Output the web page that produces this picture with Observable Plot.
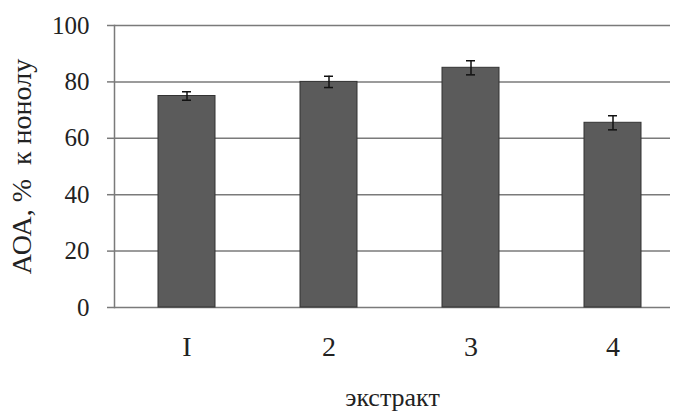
<!DOCTYPE html>
<html>
<head>
<meta charset="utf-8">
<script src="https://cdn.jsdelivr.net/npm/d3@7"></script>
<script src="https://cdn.jsdelivr.net/npm/@observablehq/plot@0.6"></script>
<style>
  html, body { margin: 0; padding: 0; background: #fff; }
  svg { display: block; }
  svg text { font-family: "Liberation Serif", "DejaVu Serif", serif !important; }
</style>
</head>
<body>
<div id="chart"></div>
<script>
const extracts = ["I", "2", "3", "4"];
const values = [75, 80, 85, 65.5];
const errors = [1.5, 2, 2.5, 2.5];
const yTicks = [0, 20, 40, 60, 80, 100];
const xTitle = "экстракт";
const yTitle = "АОА, %  к нонолу";

const data = extracts.map((e, i) => ({ e, v: values[i], lo: values[i] - errors[i], hi: values[i] + errors[i] }));

const font = "Liberation Serif, DejaVu Serif, serif";
const chart = Plot.plot({
  width: 677,
  height: 411,
  marginLeft: 114,
  marginRight: 7,
  marginTop: 25,
  marginBottom: 104,
  style: { fontFamily: font, color: "#222", background: "#fff" },
  x: { domain: extracts, range: [114, 684], paddingInner: 0.6, paddingOuter: 0.3 },
  y: { domain: [0, 100] },
  marks: [
    Plot.ruleY(yTicks, { stroke: "#7a7a7a", strokeWidth: 1.5 }),
    Plot.frame({ anchor: "left", stroke: "#7a7a7a", strokeWidth: 1.5 }),
    Plot.barY(data, { x: "e", y: "v", fill: "#5b5b5b", stroke: "#333", strokeWidth: 1 }),
    Plot.ruleX(data, { x: "e", y1: "lo", y2: "hi", stroke: "#111", strokeWidth: 1.5 }),
    Plot.tickY(data, { x: "e", y: "lo", stroke: "#111", strokeWidth: 1.5, insetLeft: 24, insetRight: 24 }),
    Plot.tickY(data, { x: "e", y: "hi", stroke: "#111", strokeWidth: 1.5, insetLeft: 24, insetRight: 24 }),
    Plot.axisY({ ticks: yTicks, tickSize: 7, tickPadding: 18, fontSize: 25, fontFamily: font, stroke: "#7a7a7a", strokeWidth: 1.5,
      label: yTitle, labelAnchor: "center", labelArrow: "none", labelOffset: 103 }),
    Plot.axisX({ tickSize: 0, tickPadding: 29, fontSize: 28, fontFamily: font, label: xTitle, labelAnchor: "center", labelArrow: "none", labelOffset: 98 })
  ]
});
chart.querySelectorAll("[aria-label='y-axis label'] text").forEach(t => t.setAttribute("font-size", 28));
chart.querySelectorAll("[aria-label='x-axis label'] text").forEach(t => t.setAttribute("font-size", 26));
document.getElementById("chart").appendChild(chart);
</script>
</body>
</html>
